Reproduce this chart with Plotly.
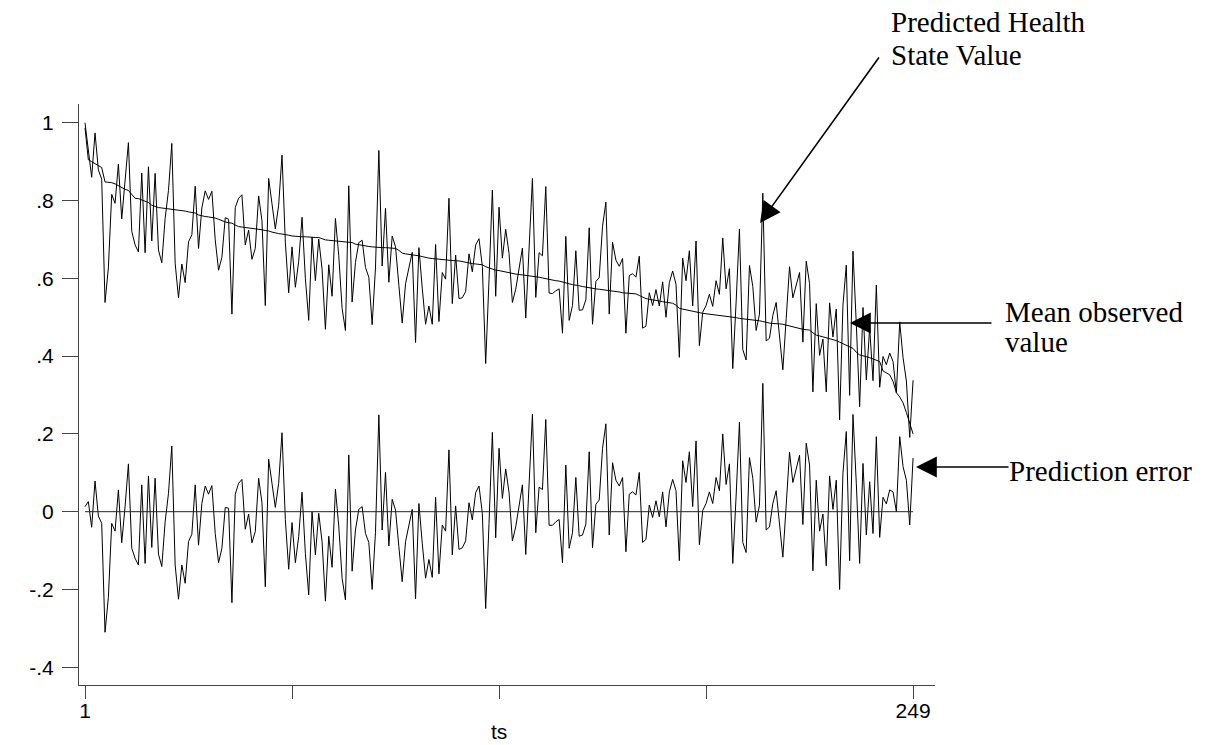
import plotly.graph_objects as go

# ---------------- data ----------------
ts = list(range(1, 250))

mean_observed = [
    0.987, 0.905, 0.900, 0.895, 0.890, 0.885, 0.848, 0.847, 0.846, 0.843,
    0.838, 0.833, 0.829, 0.826, 0.815, 0.806, 0.805, 0.802, 0.799, 0.795,
    0.788, 0.784, 0.782, 0.781, 0.780, 0.779, 0.778, 0.776, 0.775, 0.774,
    0.773, 0.771, 0.770, 0.768, 0.763, 0.760, 0.759, 0.758, 0.757, 0.755,
    0.752, 0.748, 0.745, 0.743, 0.742, 0.737, 0.733, 0.732, 0.731, 0.730,
    0.729, 0.728, 0.726, 0.725, 0.723, 0.722, 0.719, 0.716, 0.715, 0.714,
    0.713, 0.711, 0.709, 0.708, 0.708, 0.707, 0.707, 0.706, 0.706, 0.705,
    0.705, 0.701, 0.699, 0.698, 0.697, 0.696, 0.695, 0.694, 0.693, 0.692,
    0.692, 0.688, 0.686, 0.685, 0.684, 0.682, 0.681, 0.680, 0.680, 0.679,
    0.679, 0.678, 0.677, 0.677, 0.672, 0.665, 0.663, 0.662, 0.661, 0.659,
    0.658, 0.656, 0.653, 0.652, 0.651, 0.650, 0.649, 0.649, 0.648, 0.647,
    0.646, 0.645, 0.645, 0.643, 0.641, 0.640, 0.638, 0.637, 0.636, 0.635,
    0.630, 0.627, 0.623, 0.621, 0.620, 0.618, 0.616, 0.615, 0.613, 0.611,
    0.610, 0.609, 0.608, 0.607, 0.606, 0.605, 0.603, 0.601, 0.599, 0.597,
    0.596, 0.594, 0.593, 0.590, 0.588, 0.586, 0.584, 0.583, 0.581, 0.579,
    0.577, 0.576, 0.575, 0.573, 0.572, 0.571, 0.570, 0.568, 0.567, 0.566,
    0.565, 0.563, 0.562, 0.562, 0.561, 0.560, 0.556, 0.551, 0.548, 0.546,
    0.545, 0.543, 0.542, 0.540, 0.539, 0.538, 0.536, 0.531, 0.523, 0.521,
    0.519, 0.517, 0.516, 0.514, 0.512, 0.510, 0.509, 0.508, 0.507, 0.506,
    0.505, 0.504, 0.503, 0.502, 0.501, 0.499, 0.497, 0.496, 0.495, 0.494,
    0.493, 0.493, 0.491, 0.489, 0.486, 0.485, 0.484, 0.484, 0.483, 0.482,
    0.480, 0.477, 0.475, 0.472, 0.470, 0.469, 0.468, 0.467, 0.460, 0.454,
    0.452, 0.450, 0.447, 0.445, 0.443, 0.440, 0.436, 0.432, 0.428, 0.425,
    0.420, 0.410, 0.403, 0.401, 0.399, 0.396, 0.393, 0.390, 0.386, 0.362,
    0.358, 0.352, 0.335, 0.306, 0.295, 0.280, 0.255, 0.225, 0.200,
]

prediction_error = [
    0.013, 0.026, -0.040, 0.079, -0.011, -0.030, -0.310, -0.220, -0.030, -0.050,
    0.056, -0.080, 0.013, 0.123, -0.094, -0.120, -0.137, 0.069, -0.133, 0.092,
    -0.092, 0.086, -0.109, -0.141, -0.026, 0.047, 0.169, -0.137, -0.225, -0.137,
    -0.184, -0.077, -0.058, 0.069, -0.086, 0.021, 0.066, 0.045, 0.067, -0.056,
    -0.131, -0.094, 0.011, 0.009, -0.234, 0.045, 0.073, 0.083, -0.045, -0.006,
    -0.080, -0.051, 0.086, 0.023, -0.193, 0.135, 0.073, 0.011, 0.073, 0.203,
    -0.020, -0.148, -0.028, -0.131, -0.064, 0.050, -0.107, -0.214, 0.000, -0.111,
    -0.004, -0.077, -0.230, -0.063, -0.143, 0.058, -0.037, -0.171, -0.227, 0.146,
    -0.153, -0.047, 0.006, 0.013, -0.056, -0.079, -0.200, -0.053, 0.249, -0.047,
    0.101, -0.088, 0.032, 0.004, -0.090, -0.180, -0.077, -0.034, 0.006, -0.224,
    0.021, -0.081, -0.171, -0.123, -0.169, 0.037, -0.160, -0.034, -0.050, 0.159,
    -0.111, 0.015, -0.097, -0.093, -0.075, 0.023, -0.021, 0.049, 0.066, -0.004,
    -0.249, -0.030, 0.204, -0.067, 0.163, 0.034, 0.110, 0.049, -0.075, -0.039,
    0.021, 0.069, -0.110, 0.070, 0.251, -0.054, 0.063, 0.057, 0.237, -0.035,
    -0.035, -0.026, -0.020, -0.131, 0.120, -0.094, -0.054, 0.088, -0.063, -0.060,
    -0.032, 0.154, -0.093, 0.019, 0.030, 0.163, 0.226, -0.060, 0.126, 0.081,
    0.066, 0.088, -0.103, 0.045, 0.051, 0.043, 0.101, -0.079, -0.071, 0.017,
    -0.015, 0.028, -0.013, 0.051, -0.039, 0.051, 0.083, 0.054, -0.126, 0.131,
    0.075, 0.154, 0.013, 0.182, -0.085, 0.003, 0.021, 0.051, 0.021, 0.088,
    0.054, 0.200, 0.070, 0.123, -0.133, 0.040, 0.230, -0.079, -0.105, 0.139,
    0.086, -0.027, 0.017, 0.330, -0.047, -0.039, 0.021, 0.054, -0.030, -0.117,
    0.017, 0.153, 0.075, 0.109, 0.145, -0.033, 0.176, 0.120, -0.152, 0.081,
    -0.050, -0.006, -0.139, 0.092, 0.006, 0.081, -0.200, 0.099, 0.206, -0.126,
    0.250, 0.073, -0.133, 0.124, -0.060, 0.077, -0.056, 0.193, -0.066, 0.037,
    0.020, 0.056, 0.051, 0.000, 0.193, 0.116, 0.081, -0.034, 0.138,
]

predicted_health = [
    1.000, 0.931, 0.860, 0.974, 0.879, 0.855, 0.538, 0.627, 0.816, 0.793,
    0.894, 0.753, 0.842, 0.949, 0.721, 0.686, 0.668, 0.871, 0.666, 0.887,
    0.696, 0.870, 0.673, 0.640, 0.754, 0.826, 0.947, 0.639, 0.550, 0.637,
    0.589, 0.694, 0.712, 0.837, 0.677, 0.781, 0.825, 0.803, 0.824, 0.699,
    0.621, 0.654, 0.756, 0.752, 0.508, 0.782, 0.806, 0.815, 0.686, 0.724,
    0.649, 0.677, 0.812, 0.748, 0.530, 0.857, 0.792, 0.727, 0.788, 0.917,
    0.693, 0.563, 0.681, 0.577, 0.644, 0.757, 0.600, 0.492, 0.706, 0.594,
    0.701, 0.624, 0.469, 0.635, 0.554, 0.754, 0.658, 0.523, 0.466, 0.838,
    0.539, 0.641, 0.692, 0.698, 0.628, 0.603, 0.481, 0.627, 0.929, 0.632,
    0.780, 0.590, 0.709, 0.681, 0.582, 0.485, 0.586, 0.628, 0.667, 0.435,
    0.679, 0.575, 0.482, 0.529, 0.482, 0.687, 0.489, 0.615, 0.598, 0.806,
    0.535, 0.660, 0.548, 0.550, 0.566, 0.663, 0.617, 0.686, 0.702, 0.631,
    0.381, 0.597, 0.827, 0.554, 0.783, 0.652, 0.726, 0.664, 0.538, 0.572,
    0.631, 0.678, 0.498, 0.677, 0.857, 0.551, 0.666, 0.658, 0.836, 0.562,
    0.561, 0.568, 0.573, 0.459, 0.708, 0.492, 0.530, 0.671, 0.518, 0.519,
    0.545, 0.730, 0.482, 0.592, 0.602, 0.734, 0.796, 0.508, 0.693, 0.647,
    0.631, 0.651, 0.459, 0.607, 0.612, 0.603, 0.657, 0.472, 0.477, 0.563,
    0.530, 0.571, 0.529, 0.591, 0.500, 0.589, 0.619, 0.585, 0.397, 0.652,
    0.594, 0.671, 0.529, 0.696, 0.427, 0.513, 0.530, 0.559, 0.528, 0.594,
    0.559, 0.704, 0.573, 0.625, 0.368, 0.539, 0.727, 0.417, 0.390, 0.633,
    0.579, 0.466, 0.508, 0.819, 0.439, 0.446, 0.505, 0.538, 0.453, 0.365,
    0.497, 0.630, 0.550, 0.581, 0.615, 0.436, 0.644, 0.587, 0.308, 0.535,
    0.402, 0.444, 0.308, 0.537, 0.449, 0.521, 0.236, 0.531, 0.634, 0.299,
    0.670, 0.483, 0.270, 0.525, 0.339, 0.473, 0.337, 0.583, 0.320, 0.399,
    0.378, 0.408, 0.386, 0.306, 0.488, 0.396, 0.336, 0.191, 0.338,
]

zero_level = [0, 0]

y_tick_vals = [-0.4, -0.2, 0, 0.2, 0.4, 0.6, 0.8, 1]
y_tick_text = ["-.4", "-.2", "0", ".2", ".4", ".6", ".8", "1"]
x_tick_vals = [1, 63, 125, 187, 249]
x_tick_text = ["1", "", "", "", "249"]

# ---------------- layout geometry (pixels) ----------------
W, H = 1210, 745
L, R, T, B = 79, 935, 104, 685  # plot area edges in page pixels


def px(xp):
    return (xp - L) / (R - L)


def py(yp):
    return (B - yp) / (B - T)


line_style = dict(color="black", width=1)

fig = go.Figure()
fig.add_trace(go.Scatter(x=ts, y=predicted_health, mode="lines", line=line_style,
                         name="Predicted Health State Value"))
fig.add_trace(go.Scatter(x=ts, y=mean_observed, mode="lines", line=line_style,
                         name="Mean observed value"))
fig.add_trace(go.Scatter(x=ts, y=prediction_error, mode="lines", line=line_style,
                         name="Prediction error"))
fig.add_trace(go.Scatter(x=[ts[0], ts[-1]], y=zero_level, mode="lines",
                         line=dict(color="#222", width=1), name="zero"))

axis_font = dict(family="Liberation Sans, Arial, sans-serif", size=21, color="black")
fig.update_layout(
    width=W, height=H,
    margin=dict(l=L, r=W - R, t=T, b=H - B, pad=0),
    paper_bgcolor="white", plot_bgcolor="white",
    showlegend=False,
    xaxis=dict(
        range=[1 - (85 - L) / 3.339, 1 + (R - 85) / 3.339],
        tickmode="array", tickvals=x_tick_vals, ticktext=x_tick_text,
        ticks="outside", ticklen=13, tickwidth=1, tickcolor="#444",
        showline=True, linecolor="#444", linewidth=1,
        showgrid=False, zeroline=False, tickfont=axis_font,
        ticklabelstandoff=-6,
    ),
    yaxis=dict(
        range=[(511.7 - B) / 388.9, (511.7 - T) / 388.9],
        tickmode="array", tickvals=y_tick_vals, ticktext=y_tick_text,
        ticks="outside", ticklen=16, tickwidth=1, tickcolor="#444",
        showline=True, linecolor="#444", linewidth=1,
        showgrid=False, zeroline=False, tickfont=axis_font,
        ticklabelstandoff=4,
    ),
)

serif = dict(family="Liberation Serif, Times New Roman, serif", size=29, color="black")
texts = [
    ("Predicted Health", 889, 22),
    ("State Value", 889, 55),
    ("Mean observed", 1003, 312),
    ("value", 1003, 342),
    ("Prediction error", 1007, 471),
]
for txt, xp_, yp_ in texts:
    fig.add_annotation(text=txt, x=px(xp_), y=py(yp_), xref="paper", yref="paper",
                       xanchor="left", yanchor="middle", showarrow=False, font=serif)

fig.add_annotation(text="ts", x=125, y=py(731), xref="x", yref="paper",
                   xanchor="center", yanchor="middle", showarrow=False, font=axis_font)

arrows = [
    ((760, 223), (880, 56)),
    ((850, 323), (993, 323)),
    ((916, 467), (1010, 467)),
]
for (hx, hy), (tx, tyy) in arrows:
    fig.add_annotation(text="", x=px(hx), y=py(hy), xref="paper", yref="paper",
                       ax=tx - hx, ay=tyy - hy, axref="pixel", ayref="pixel",
                       showarrow=True, arrowhead=2, arrowsize=2.6, arrowwidth=1.6,
                       arrowcolor="black", standoff=0, startstandoff=0)

fig.write_html("out.html")
